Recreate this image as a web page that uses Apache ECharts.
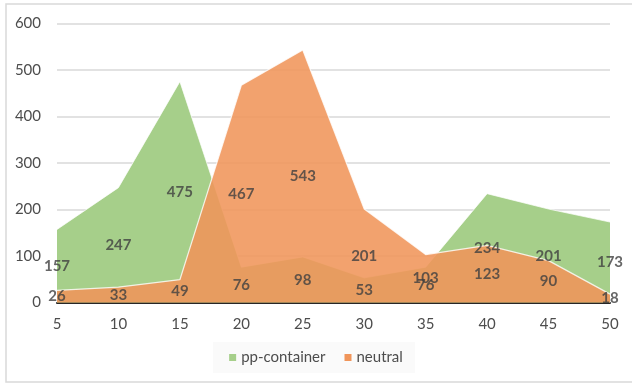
<!DOCTYPE html>
<html>
<head>
<meta charset="utf-8">
<script src="https://cdn.jsdelivr.net/npm/echarts@6/dist/echarts.min.js"></script>
<style>
  html, body { margin: 0; padding: 0; background: #fff; }
  #chart { width: 632px; height: 384px; }
</style>
</head>
<body>
<div id="chart"></div>
<script>
// Categories along the x axis
const categories = ['5', '10', '15', '20', '25', '30', '35', '40', '45', '50'];
// Series values
const ppContainer = [157, 247, 475, 76, 98, 53, 76, 234, 201, 173];
const neutral = [26, 33, 49, 467, 543, 201, 103, 123, 90, 18];
// Y axis range
const yTicks = [0, 100, 200, 300, 400, 500, 600];

const FONT = 'Lato, "Open Sans", sans-serif';
const green = '#A6CF8A';
const orange = '#F0955A';

// Value labels sit half-way up each area, showing the full value
function labelSeries(name, values) {
  return {
    name: name + '-labels',
    type: 'scatter',
    symbolSize: 0,
    silent: true,
    z: 10,
    data: values.map((v, i) => [i, v / 2]),
    label: {
      show: true,
      position: 'inside',
      formatter: p => String(values[p.dataIndex]),
      color: '#404040',
      fontFamily: FONT,
      fontWeight: 'bold',
      fontSize: 15
    }
  };
}

const chart = echarts.init(document.getElementById('chart'));
chart.setOption({
  animation: false,
  backgroundColor: '#fff',
  graphic: [{
    type: 'rect',
    shape: { x: 6, y: 4, width: 640, height: 378 },
    style: { fill: 'none', stroke: '#D9D9D9', lineWidth: 1.5 },
    silent: true,
    z: -10
  }],
  grid: { left: 57, right: 22, top: 23.5, bottom: 81.5, containLabel: false },
  legend: {
    bottom: 11,
    left: 'center',
    data: ['pp-container', 'neutral'],
    icon: 'rect',
    itemWidth: 7,
    itemHeight: 7,
    itemGap: 19,
    itemTextGap: 5,
    backgroundColor: '#FAFAFA',
    padding: [8, 12, 8, 16],
    textStyle: { fontFamily: FONT, fontSize: 15, color: '#4D4D4D' }
  },
  xAxis: {
    type: 'category',
    data: categories,
    boundaryGap: false,
    axisLine: { lineStyle: { color: '#262626', width: 2 } },
    axisTick: { show: false },
    axisLabel: { fontFamily: FONT, fontSize: 15, color: '#4D4D4D', margin: 14 },
    splitLine: { show: false }
  },
  yAxis: {
    type: 'value',
    min: yTicks[0],
    max: yTicks[yTicks.length - 1],
    interval: 100,
    axisLine: { show: false },
    axisTick: { show: false },
    axisLabel: { fontFamily: FONT, fontSize: 15, color: '#4D4D4D', margin: 16 },
    splitLine: { lineStyle: { color: '#D9D9D9', width: 1.5 } }
  },
  series: [
    {
      name: 'pp-container',
      type: 'line',
      data: ppContainer,
      symbol: 'none',
      itemStyle: { color: green },
      lineStyle: { color: '#ffffff', width: 1, opacity: 0.7 },
      areaStyle: { color: green, opacity: 1 },
      z: 2
    },
    {
      name: 'neutral',
      type: 'line',
      data: neutral,
      symbol: 'none',
      itemStyle: { color: orange },
      lineStyle: { color: '#ffffff', width: 1.2, opacity: 0.8 },
      areaStyle: { color: orange, opacity: 0.88 },
      z: 3
    },
    labelSeries('pp-container', ppContainer),
    labelSeries('neutral', neutral)
  ]
});
</script>
</body>
</html>
